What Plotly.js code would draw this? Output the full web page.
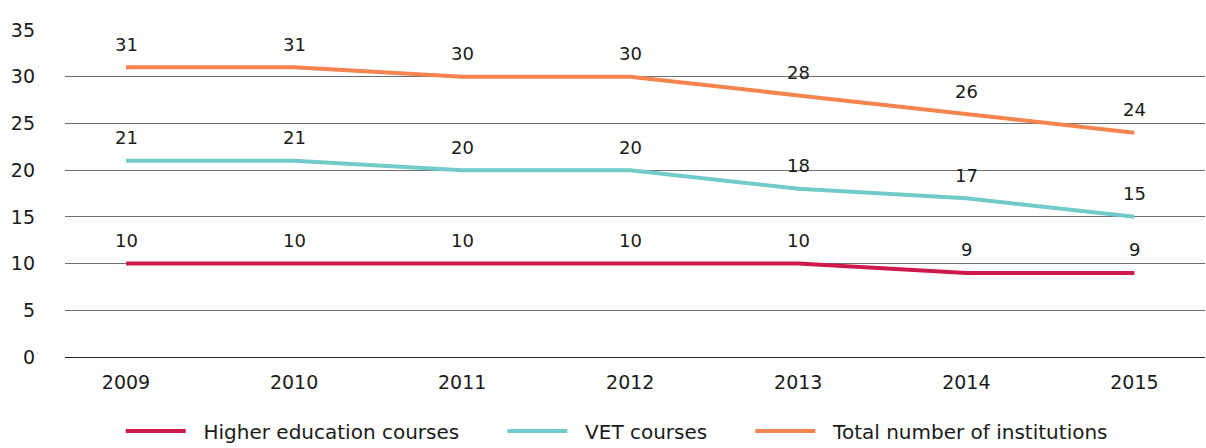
<!DOCTYPE html>
<html>
<head>
<meta charset="utf-8">
<script src="https://cdn.plot.ly/plotly-3.0.1.min.js"></script>
<style>html,body{margin:0;padding:0;background:#fff}#chart{width:1206px;height:448px}</style>
</head>
<body>
<div id="chart"></div>
<script>
var years = ["2009", "2010", "2011", "2012", "2013", "2014", "2015"];
var higherEducation = [10, 10, 10, 10, 10, 9, 9];
var vetCourses = [21, 21, 20, 20, 18, 17, 15];
var totalInstitutions = [31, 31, 30, 30, 28, 26, 24];
var seriesNames = ["Higher education courses", "VET courses", "Total number of institutions"];
var seriesColors = ["#D0194B", "#72CBCB", "#F5844F"];
var yTicks = [0, 5, 10, 15, 20, 25, 30, 35];

var fontFam = "'DejaVu Sans', sans-serif";
var allSeries = [higherEducation, vetCourses, totalInstitutions];
var NB = "\u00a0";
function pad(n) { return new Array(n + 1).join(NB); }

var traces = allSeries.map(function (vals, i) {
  return {
    x: years, y: vals, type: "scatter", mode: "lines",
    name: pad(2) + seriesNames[i] + (i < allSeries.length - 1 ? pad(6) : ""),
    line: {color: seriesColors[i], width: 4}, hoverinfo: "skip"
  };
});

var annotations = [];
allSeries.forEach(function (vals) {
  vals.forEach(function (v, j) {
    annotations.push({
      x: j, y: v, xref: "x", yref: "y", text: String(v), showarrow: false,
      yshift: 23, yanchor: "middle", xanchor: "center",
      font: {family: fontFam, size: 18, color: "#1a1a1a"}
    });
  });
});

var layout = {
  width: 1206, height: 448,
  margin: {l: 65, r: 1, t: 30, b: 91, autoexpand: false},
  paper_bgcolor: "#fff", plot_bgcolor: "#fff",
  showlegend: true,
  legend: {
    orientation: "h", x: 0.484, xanchor: "center", yref: "container", y: 0.038, yanchor: "middle",
    font: {family: fontFam, size: 20, color: "#1a1a1a"}, itemwidth: 60,
    traceorder: "normal"
  },
  xaxis: {
    type: "category", range: [-0.363, 6.42], showgrid: false, zeroline: false,
    showline: false, ticks: "", ticklabelstandoff: 12,
    tickfont: {family: fontFam, size: 19, color: "#1a1a1a"},
    fixedrange: true
  },
  yaxis: {
    range: [0, 35], tickvals: yTicks, showgrid: true, gridcolor: "#6f6f6f", gridwidth: 1,
    zeroline: true, zerolinecolor: "#222", zerolinewidth: 1, showline: false,
    ticks: "", ticklabelstandoff: 29,
    tickfont: {family: fontFam, size: 19, color: "#1a1a1a"}, fixedrange: true
  },
  annotations: annotations
};

Plotly.newPlot("chart", traces, layout, {displayModeBar: false, staticPlot: true});
</script>
</body>
</html>
